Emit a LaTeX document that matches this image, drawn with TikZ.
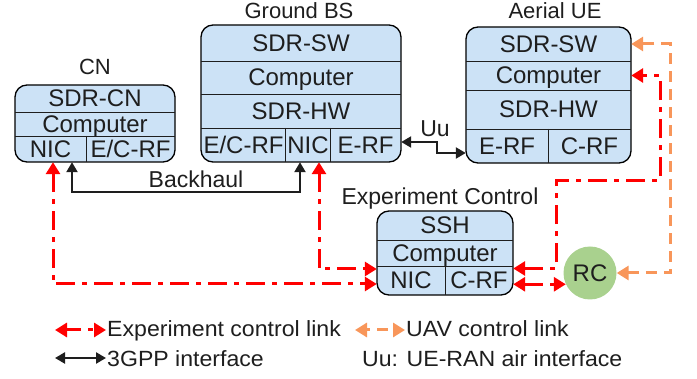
\documentclass[tikz,border=0pt]{standalone}
\usepackage{fontspec}
\setmainfont{Liberation Sans}
\usepackage{graphicx}
\usetikzlibrary{arrows.meta,calc}
\definecolor{boxblue}{RGB}{204,226,246}
\definecolor{rcgreen}{RGB}{169,209,142}
\definecolor{uavorange}{RGB}{248,150,90}
\definecolor{txt}{RGB}{30,30,30}
\begin{document}
\begin{tikzpicture}[x=1pt,y=-1pt,
  box/.style={draw=black, line width=1.3pt, fill=boxblue, rounded corners=12pt, inner sep=0pt},
  cell/.style={inner sep=0pt, font=\fontsize{24}{28}\selectfont, text=txt, text height=17pt, text depth=0pt},
  div/.style={draw=txt, line width=0.9pt},
  lbl/.style={inner sep=0pt, font=\fontsize{23}{27}\selectfont, text=txt},
  ttl/.style={inner sep=0pt, font=\fontsize{22}{26}\selectfont, text=txt},
  leg/.style={inner sep=1pt, font=\fontsize{22}{26}\selectfont, text=txt},
  redlink/.style={draw=red, line width=3pt, dash pattern=on 19pt off 7pt on 5pt off 7pt, >={Triangle[length=12pt,width=14pt]}, <->},
  orlink/.style={draw=uavorange, line width=3pt, dash pattern=on 11pt off 7pt, >={Triangle[length=12pt,width=14pt]}, <->},
  blk/.style={draw=txt, line width=2.3pt, >={Triangle[length=10pt,width=11pt]}, <->},
]
\useasboundingbox (0,0) rectangle (697,379);

% ---------------- CN ----------------
\node[box, minimum width=160pt, minimum height=77pt] (cn) at (95,123.5) {};
\node[cell, minimum width=160pt, minimum height=27pt] (cnsdr) at (95,98.5) {SDR-CN};
\node[cell, minimum width=160pt, minimum height=24pt] (cncomp) at (95,124) {Computer};
\node[cell, minimum width=71pt, minimum height=26pt] (cnnic) at (50.5,149) {NIC};
\node[cell, minimum width=89pt, minimum height=26pt] (cnecrf) at (130.5,149) {E/C-RF};
\draw[div] (cnsdr.south west) -- (cnsdr.south east);
\draw[div] (cncomp.south west) -- (cncomp.south east);
\draw[div] (cnnic.north east) -- (cnnic.south east);
\node[ttl, anchor=base] (cnlbl) at (95,75) {CN};

% ---------------- Ground BS ----------------
\node[box, minimum width=200pt, minimum height=137pt] (bs) at (301,93.5) {};
\node[cell, minimum width=200pt, minimum height=36pt] (bssw) at (301,43) {SDR-SW};
\node[cell, minimum width=200pt, minimum height=33pt] (bscomp) at (301,77.5) {Computer};
\node[cell, minimum width=200pt, minimum height=34pt] (bshw) at (301,111) {SDR-HW};
\node[cell, minimum width=85pt, minimum height=34pt] (bsecrf) at (243.5,145) {E/C-RF};
\node[cell, minimum width=44pt, minimum height=34pt] (bsnic) at (308,145) {NIC};
\node[cell, minimum width=71pt, minimum height=34pt] (bserf) at (365.5,145) {E-RF};
\draw[div] (bssw.south west) -- (bssw.south east);
\draw[div] (bscomp.south west) -- (bscomp.south east);
\draw[div] (bshw.south west) -- (bshw.south east);
\draw[div] (bsnic.north west) -- (bsnic.south west);
\draw[div] (bsnic.north east) -- (bsnic.south east);
\node[ttl, anchor=base] (bslbl) at (299,19) {Ground BS};

% ---------------- Aerial UE ----------------
\node[box, minimum width=165pt, minimum height=136pt] (ue) at (548.5,95) {};
\node[cell, minimum width=165pt, minimum height=34pt] (uesw) at (548.5,44) {SDR-SW};
\node[cell, minimum width=165pt, minimum height=29pt] (uecomp) at (548.5,75.5) {Computer};
\node[cell, minimum width=165pt, minimum height=39pt] (uehw) at (548.5,109.5) {SDR-HW};
\node[cell, minimum width=82pt, minimum height=34pt] (ueerf) at (507,146) {E-RF};
\node[cell, minimum width=83pt, minimum height=34pt] (uecrf) at (589.5,146) {C-RF};
\draw[div] (uesw.south west) -- (uesw.south east);
\draw[div] (uecomp.south west) -- (uecomp.south east);
\draw[div] (uehw.south west) -- (uehw.south east);
\draw[div] (ueerf.north east) -- (ueerf.south east);
\node[ttl, anchor=base] (uelbl) at (555,19) {Aerial UE};

% ---------------- Experiment Control ----------------
\node[box, minimum width=136pt, minimum height=84pt] (ssh) at (445,253) {};
\node[cell, minimum width=136pt, minimum height=29pt] (sshsw) at (445,225.5) {SSH};
\node[cell, minimum width=136pt, minimum height=26pt] (sshcomp) at (445,253) {Computer};
\node[cell, minimum width=68pt, minimum height=29pt] (sshnic) at (411,280.5) {NIC};
\node[cell, minimum width=68pt, minimum height=29pt] (sshcrf) at (479,280.5) {C-RF};
\draw[div] (sshsw.south west) -- (sshsw.south east);
\draw[div] (sshcomp.south west) -- (sshcomp.south east);
\draw[div] (sshnic.north east) -- (sshnic.south east);
\node[lbl, anchor=base] (eclbl) at (440,205) {Experiment Control};

% ---------------- RC ----------------
\node[circle, fill=rcgreen, minimum size=53pt, inner sep=0pt, font=\fontsize{24}{28}\selectfont, text=txt] (rc) at (590,273) {RC};

% ---------------- connectors ----------------
\draw[blk] ([xshift=21.5pt]cnnic.south) -- ++(0,30) -| ([xshift=-8pt]bsnic.south);
\node[lbl, anchor=base] (bhlbl) at (196,188) {Backhaul};

\draw[blk] ([yshift=3pt]bserf.east) -- ++(36,0) |- ([yshift=-7pt]ueerf.west);
\node[lbl, anchor=base] (uulbl) at (435,137) {Uu};

\draw[redlink] ([xshift=2.5pt]cnnic.south) |- ([yshift=-3.5pt]sshnic.west);
\draw[redlink] ([xshift=11pt]bsnic.south) |- ([yshift=11.5pt]sshnic.west);
\draw[redlink] ([yshift=12pt]sshcrf.east) -- ++(43,0) -- ++(0,-88) -- ++(104,0) |- (uecomp.east);
\draw[redlink] (rc.205 -| sshcrf.east) -- (rc.205);
\draw[orlink] (rc.east) -- ++(54,0) |- (uesw.east);

% ---------------- legend ----------------
\node[leg, anchor=base west] (leg1) at (106,337) {\scalebox{1.05}[1]{Experiment control link}};
\node[leg, anchor=base west] (leg2) at (405,337) {\scalebox{1.05}[1]{UAV control link}};
\node[leg, anchor=base west] (leg3) at (106,367) {\scalebox{1.05}[1]{3GPP interface}};
\node[leg, anchor=base west] (leg4) at (361,367) {\scalebox{1.05}[1]{Uu: UE-RAN air interface}};
\coordinate (lr) at (55,330);
\coordinate (lo) at (355,330);
\coordinate (lb) at (55,358);
\draw[redlink, dash phase=4pt] (lr) -- (lr -| leg1.west);
\draw[orlink, dash phase=7pt] (lo) -- (lo -| leg2.west);
\draw[blk] (lb) -- (lb -| leg3.west);
\end{tikzpicture}
\end{document}
